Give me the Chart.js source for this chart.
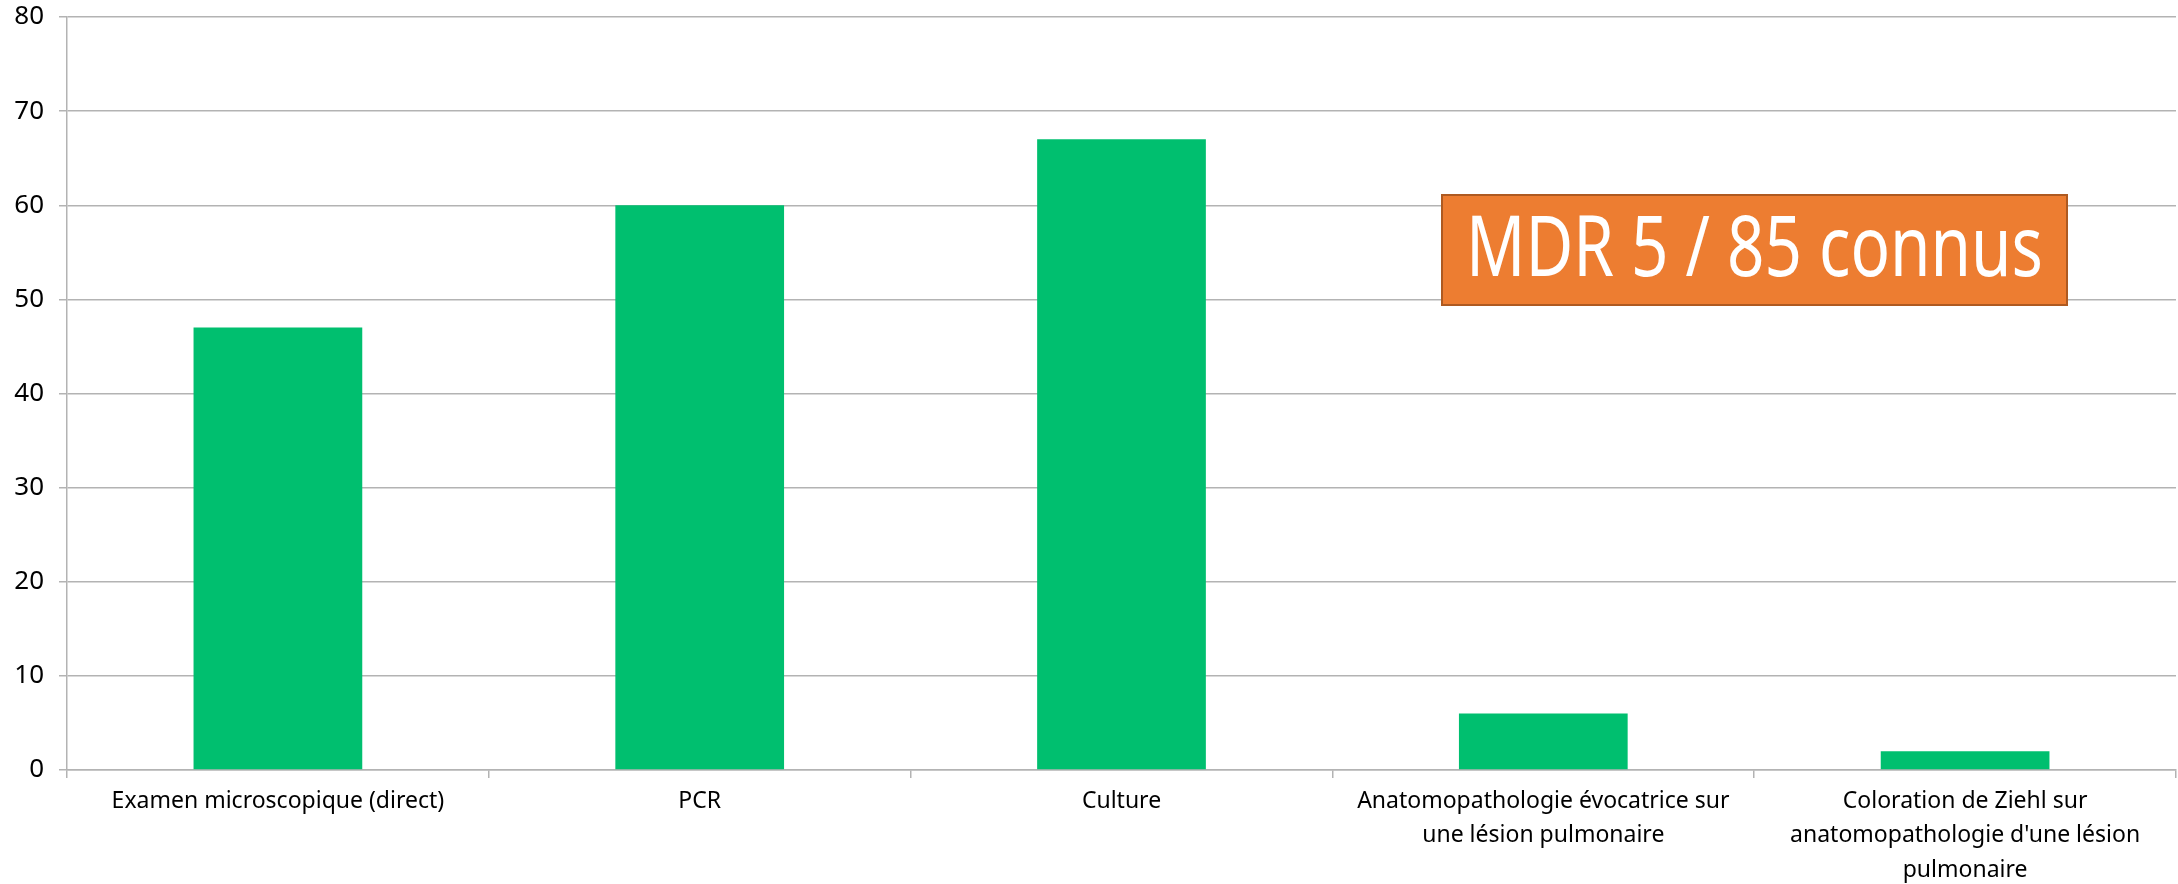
<!DOCTYPE html>
<html>
<head>
<meta charset="utf-8">
<script src="https://cdn.jsdelivr.net/npm/chart.js@4/dist/chart.umd.min.js"></script>
<style>
  body { margin: 0; background: #fff; }
  #wrap { width: 2178px; height: 884px; }
</style>
</head>
<body>
<div id="wrap"><canvas id="chart"></canvas></div>
<script>
// Categories (multi-line labels)
const categories = [
  "Examen microscopique (direct)",
  "PCR",
  "Culture",
  ["Anatomopathologie évocatrice sur", "une lésion pulmonaire"],
  ["Coloration de Ziehl sur", "anatomopathologie d'une lésion", "pulmonaire"]
];
const counts = [47, 60, 67, 6, 2];
const yMin = 0, yMax = 80, yStep = 10;
const noteText = "MDR 5 / 85 connus";

const gridColor = "#b3b3b3";

// Orange text box in the upper right
const noteBox = {
  id: "noteBox",
  afterDraw(chart) {
    const ctx = chart.ctx;
    const x = 1442, y = 195, w = 625, h = 110;
    ctx.save();
    ctx.fillStyle = "#ED7D31";
    ctx.fillRect(x, y, w, h);
    ctx.strokeStyle = "#AE5A21";
    ctx.lineWidth = 2;
    ctx.strokeRect(x, y, w, h);
    ctx.font = "84px 'Noto Sans'";
    ctx.fillStyle = "#fff";
    ctx.textBaseline = "middle";
    ctx.textAlign = "center";
    const tw = ctx.measureText(noteText).width;
    const sx = 577 / tw;
    ctx.translate(x + w / 2, y + h / 2 + 2);
    ctx.scale(sx, 1);
    ctx.fillText(noteText, 0, 0);
    ctx.restore();
  }
};

function loadChart() {
  const ctx = document.getElementById("chart").getContext("2d");
  new Chart(ctx, {
    type: "bar",
    data: {
      labels: categories,
      datasets: [{
        data: counts,
        backgroundColor: "#00BF6F",
        borderWidth: 0,
        barPercentage: 0.4,
        categoryPercentage: 1.0
      }]
    },
    options: {
      responsive: true,
      maintainAspectRatio: false,
      animation: false,
      layout: { padding: { top: 17, right: 2, left: 0, bottom: 0 } },
      plugins: {
        legend: { display: false },
        tooltip: { enabled: false }
      },
      scales: {
        x: {
          grid: {
            offset: true,
            drawOnChartArea: false,
            tickLength: 8,
            color: gridColor,
            lineWidth: 1.5
          },
          border: { color: gridColor, width: 1.5 },
          ticks: {
            color: "#000",
            font: { family: "'Noto Sans'", size: 23, lineHeight: 1.5 },
            padding: 6,
            maxRotation: 0,
            autoSkip: false
          },
          afterFit(scale) {
            scale.height = 114;
            scale.paddingLeft = 0;
            scale.paddingRight = 0;
          }
        },
        y: {
          min: yMin,
          max: yMax,
          grid: { color: gridColor, lineWidth: 1.5, tickLength: 8 },
          border: { color: gridColor, width: 1.5 },
          ticks: {
            stepSize: yStep,
            color: "#000",
            font: { family: "'Noto Sans'", size: 26 },
            padding: 15
          },
          afterFit(scale) {
            scale.width = 67;
            scale.paddingTop = 0;
            scale.paddingBottom = 0;
          }
        }
      }
    },
    plugins: [noteBox]
  });
}

window.onload = () => {
  loadChart();
};
</script>
</body>
</html>
